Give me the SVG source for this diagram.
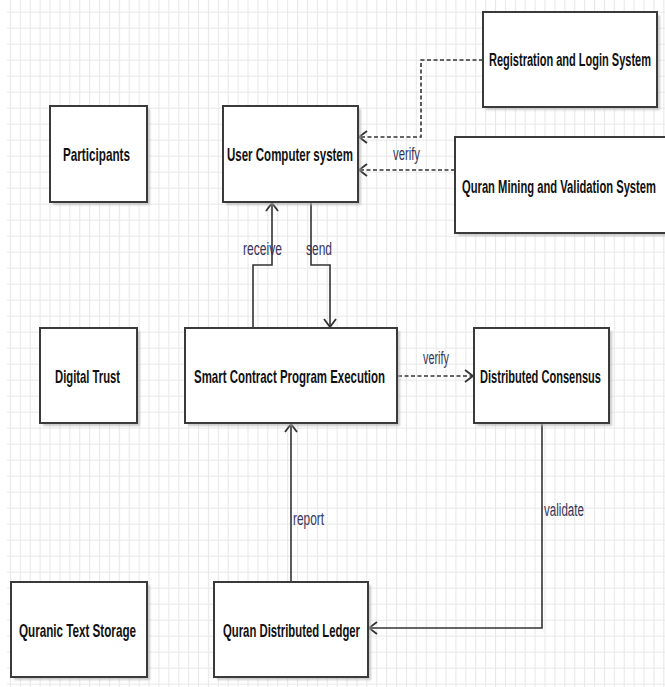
<svg xmlns="http://www.w3.org/2000/svg" width="665" height="687" viewBox="0 0 665 687">
<style>
.box{fill:#ffffff;stroke:#3a3a3a;stroke-width:2}
.shadow{fill:#b4b4b4;opacity:0.7}
.t{font-family:"Liberation Sans",Arial,sans-serif;font-weight:bold;font-size:19px;fill:#111111}
.lbl{font-family:"Liberation Sans",Arial,sans-serif;font-size:18px;fill:#34345a}
.ln{fill:none;stroke:#333333;stroke-width:1.6}
.dash{stroke-dasharray:4 2.5}
</style>
<defs>
<pattern id="grid" x="0" y="-4.3" width="9.9" height="16" patternUnits="userSpaceOnUse">
<path d="M0.5 0 V16 M0 0.5 H9.9" fill="none" stroke="#e8e8e8" stroke-width="1.2"/>
</pattern>
<filter id="blur" x="-10%" y="-10%" width="120%" height="120%"><feGaussianBlur stdDeviation="1"/></filter>
<marker id="arr" viewBox="-10 -8 12 16" markerWidth="12" markerHeight="16" refX="0" refY="0" orient="auto" markerUnits="userSpaceOnUse">
<path d="M-8 -6 L0 0 L-8 6" fill="none" stroke="#333333" stroke-width="1.8"/>
</marker>
</defs>
<rect x="0" y="0" width="665" height="687" fill="#ffffff"/>
<rect x="7" y="0" width="658" height="687" fill="url(#grid)"/>

<g id="connectors">
<path class="ln dash" d="M483 60 H421 V137 H359" marker-end="url(#arr)"/>
<path class="ln dash" d="M455 170 H359" marker-end="url(#arr)"/>
<text class="lbl" transform="translate(393,160) scale(0.66,1)" textLength="40.9" lengthAdjust="spacingAndGlyphs">verify</text>
<path class="ln" d="M253 328 V265 H272 V203" marker-end="url(#arr)"/>
<text class="lbl" transform="translate(243,255) scale(0.66,1)" textLength="59.1" lengthAdjust="spacingAndGlyphs">receive</text>
<path class="ln" d="M311 202 V265 H330 V327" marker-end="url(#arr)"/>
<text class="lbl" transform="translate(306,255) scale(0.66,1)" textLength="39.4" lengthAdjust="spacingAndGlyphs">send</text>
<path class="ln dash" d="M398 376 H473" marker-end="url(#arr)"/>
<text class="lbl" transform="translate(423,364) scale(0.66,1)" textLength="39.4" lengthAdjust="spacingAndGlyphs">verify</text>
<path class="ln" d="M291 582 V424" marker-end="url(#arr)"/>
<text class="lbl" transform="translate(293,525) scale(0.66,1)" textLength="47" lengthAdjust="spacingAndGlyphs">report</text>
<path class="ln" d="M542 424 V628 H369" marker-end="url(#arr)"/>
<text class="lbl" transform="translate(544,516) scale(0.66,1)" textLength="60.6" lengthAdjust="spacingAndGlyphs">validate</text>
</g>

<g id="participants">
<rect class="shadow" x="53" y="109" width="97" height="96" filter="url(#blur)"/>
<rect class="box" x="50" y="106" width="97" height="96"/>
<text class="t" transform="translate(63,161) scale(0.64,1)" textLength="104.7" lengthAdjust="spacingAndGlyphs">Participants</text>
</g>
<g id="user-computer-system">
<rect class="shadow" x="226" y="109" width="135" height="96" filter="url(#blur)"/>
<rect class="box" x="223" y="106" width="135" height="96"/>
<text class="t" transform="translate(227,161) scale(0.64,1)" textLength="196.9" lengthAdjust="spacingAndGlyphs">User Computer system</text>
</g>
<g id="registration-login">
<rect class="shadow" x="486" y="15" width="174" height="95" filter="url(#blur)"/>
<rect class="box" x="483" y="12" width="174" height="95"/>
<text class="t" transform="translate(489,66) scale(0.56,1)" textLength="289.3" lengthAdjust="spacingAndGlyphs">Registration and Login System</text>
</g>
<g id="quran-mining">
<rect class="shadow" x="458" y="140" width="230" height="96" filter="url(#blur)"/>
<rect class="box" x="455" y="137" width="230" height="96"/>
<text class="t" transform="translate(462,193) scale(0.56,1)" textLength="346.4" lengthAdjust="spacingAndGlyphs">Quran Mining and Validation System</text>
</g>
<g id="digital-trust">
<rect class="shadow" x="43" y="331" width="97" height="95" filter="url(#blur)"/>
<rect class="box" x="40" y="328" width="97" height="95"/>
<text class="t" transform="translate(55,383) scale(0.64,1)" textLength="101.6" lengthAdjust="spacingAndGlyphs">Digital Trust</text>
</g>
<g id="smart-contract">
<rect class="shadow" x="188" y="331" width="212" height="95" filter="url(#blur)"/>
<rect class="box" x="185" y="328" width="212" height="95"/>
<text class="t" transform="translate(194,383) scale(0.64,1)" textLength="298.4" lengthAdjust="spacingAndGlyphs">Smart Contract Program Execution</text>
</g>
<g id="distributed-consensus">
<rect class="shadow" x="477" y="331" width="135" height="95" filter="url(#blur)"/>
<rect class="box" x="474" y="328" width="135" height="95"/>
<text class="t" transform="translate(480,383) scale(0.64,1)" textLength="189.1" lengthAdjust="spacingAndGlyphs">Distributed Consensus</text>
</g>
<g id="quranic-text-storage">
<rect class="shadow" x="14" y="585" width="136" height="95" filter="url(#blur)"/>
<rect class="box" x="11" y="582" width="136" height="95"/>
<text class="t" transform="translate(19,637) scale(0.64,1)" textLength="182.8" lengthAdjust="spacingAndGlyphs">Quranic Text Storage</text>
</g>
<g id="quran-distributed-ledger">
<rect class="shadow" x="217" y="585" width="154" height="95" filter="url(#blur)"/>
<rect class="box" x="214" y="582" width="154" height="95"/>
<text class="t" transform="translate(223,637) scale(0.64,1)" textLength="214.1" lengthAdjust="spacingAndGlyphs">Quran Distributed Ledger</text>
</g>
</svg>
